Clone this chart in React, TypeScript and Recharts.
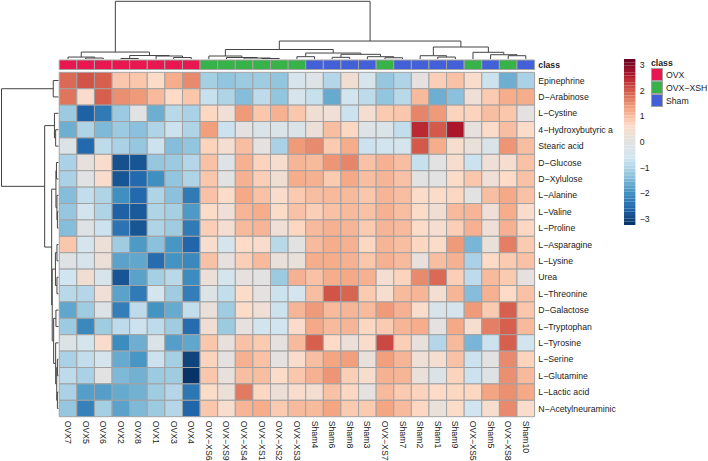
import { ScatterChart, Scatter, XAxis, YAxis, ReferenceArea } from 'recharts'

const colLabels = ['OVX7', 'OVX5', 'OVX6', 'OVX2', 'OVX8', 'OVX1', 'OVX3', 'OVX4', 'OVX−XS6', 'OVX−XS9', 'OVX−XS4', 'OVX−XS1', 'OVX−XS2', 'OVX−XS3', 'Sham4', 'Sham6', 'Sham8', 'Sham3', 'OVX−XS7', 'Sham7', 'Sham2', 'Sham1', 'Sham9', 'OVX−XS5', 'Sham5', 'OVX−XS8', 'Sham10']
const colClass = ['OVX', 'OVX', 'OVX', 'OVX', 'OVX', 'OVX', 'OVX', 'OVX', 'OVX−XSH', 'OVX−XSH', 'OVX−XSH', 'OVX−XSH', 'OVX−XSH', 'OVX−XSH', 'Sham', 'Sham', 'Sham', 'Sham', 'OVX−XSH', 'Sham', 'Sham', 'Sham', 'Sham', 'OVX−XSH', 'Sham', 'OVX−XSH', 'Sham']
const rowLabels = ['Epinephrine', 'D−Arabinose', 'L−Cystine', '4−Hydroxybutyric a', 'Stearic acid', 'D−Glucose', 'D−Xylulose', 'L−Alanine', 'L−Valine', 'L−Proline', 'L−Asparagine', 'L−Lysine', 'Urea', 'L−Threonine', 'D−Galactose', 'L−Tryptophan', 'L−Tyrosine', 'L−Serine', 'L−Glutamine', 'L−Lactic acid', 'N−Acetylneuraminic']

const epinephrine = [1.85, 2.05, 1.95, 0.9, 0.9, 0.6, 1.2, 1.55, -1.1, -1.3, -1.2, -1.15, -1.3, -0.4, -0.2, -0.95, 0.35, -0.45, -1.25, -1.0, 0.05, 0.8, 0.95, 0.55, -0.7, -1.6, -1.05]
const arabinose = [1.75, 0.55, 1.95, 1.5, 1.4, 1.05, 0.65, 0.9, -0.75, -1.0, -1.4, -0.85, -1.3, -0.4, -0.75, -1.65, -0.6, -0.85, -1.3, -0.9, 1.05, -1.6, -1.35, 0.3, 0.85, 1.2, 1.2]
const cystine = [-1.2, -2.65, -2.3, -1.2, -0.05, -1.6, -0.9, -1.05, 0.7, 0.3, 1.4, 0.9, 1.15, 0.9, 0.35, 0.3, -0.7, 0.4, 0.85, 0.9, 1.6, 1.4, 0.75, 0.75, 1.0, 0.9, 0.05]
const hydroxybutyric = [-1.6, -1.0, -1.45, -1.2, -1.35, -1.0, -0.7, -1.0, 1.35, -0.7, 0.05, -0.3, -0.3, -0.3, 0.25, 1.0, 0.7, -0.2, -0.3, -0.8, 2.45, 2.0, 2.65, 0.1, 0.6, 1.0, 0.6]
const stearic = [-0.25, -2.55, -0.85, -1.05, -1.25, -0.7, -1.4, -1.3, 0.75, 0.4, 1.0, 0.05, -1.05, 1.4, 1.55, 0.85, 1.2, -0.7, -0.6, -0.5, 2.0, 1.2, 0.5, 0.2, -0.3, 1.45, 1.0]
const glucose = [-1.05, 0.15, 0.55, -2.85, -2.8, -1.25, -1.2, -0.95, 0.95, -0.2, 1.15, 0.75, 0.5, 1.1, 1.05, 1.45, 1.6, 0.95, 1.15, 1.0, -0.75, 0.0, 0.5, -0.7, 0.3, 0.45, 0.95]
const xylulose = [-1.05, -0.05, 0.55, -2.8, -2.55, -2.0, -1.3, -1.0, 0.9, 0.0, 1.15, 0.8, 0.35, 1.2, 1.15, 0.85, 1.25, 1.0, 1.1, 0.95, 0.0, 0.0, 0.6, 0.9, 0.3, 0.65, 0.95]
const alanine = [-1.4, -0.8, -1.0, -2.0, -2.55, -1.0, -1.35, -2.3, 0.95, 0.6, 1.25, 0.95, 0.55, 0.85, 1.0, 1.05, 1.05, 0.9, 1.1, 1.0, 0.6, 0.6, 0.7, 0.0, 1.0, 1.25, 0.95]
const valine = [-1.25, -0.6, -1.0, -2.65, -2.75, -1.0, -1.1, -1.85, 0.6, 0.3, 1.1, 1.2, 0.6, 0.95, 0.8, 0.95, 1.05, 0.95, 1.15, 1.0, 0.6, 0.35, 1.05, 1.1, 0.3, 1.2, 0.55]
const proline = [-1.4, -0.1, -0.7, -2.4, -2.8, -1.0, -1.15, -2.3, 0.8, 0.4, 1.05, 1.1, 0.3, 0.7, 1.05, 1.15, 1.1, 0.85, 1.1, 1.05, 0.6, 0.45, 0.8, 1.15, 0.3, 1.15, 0.7]
const asparagine = [0.9, -0.5, 0.25, -1.15, -1.85, -1.35, -1.9, -2.6, 0.5, -0.5, 0.65, 0.55, -0.9, 0.0, 1.05, 1.2, 1.15, 0.7, 1.1, 1.0, 0.7, 0.6, 1.4, -1.5, 0.2, 1.65, 0.85]
const lysine = [-0.1, -0.4, 0.25, -1.75, -1.7, -2.5, -1.95, -2.1, 0.95, 0.1, 0.8, 1.05, 0.2, 0.2, 1.2, 1.2, 1.15, 0.9, 1.15, 1.05, 0.15, 1.0, 1.15, -1.05, 0.65, 0.85, 0.95]
const urea = [-0.65, 0.35, -0.4, -2.8, -1.75, -1.1, -0.9, -2.05, 0.25, -0.55, 0.1, 0.0, -1.2, 1.15, 0.95, 1.2, 1.25, 1.15, 0.4, 0.75, 1.55, 1.85, 0.8, -0.85, 1.05, 0.85, 0.1]
const threonine = [-0.9, -0.95, 0.3, -1.75, -2.3, -0.55, -1.15, -2.25, -0.25, -0.8, 0.6, 0.05, -0.7, -0.5, 1.0, 2.05, 1.9, 0.85, 0.5, 1.05, 1.1, 0.4, 1.1, -1.4, 1.15, 0.65, 0.95]
const galactose = [-1.7, -1.15, -0.25, -2.25, -0.85, -1.95, -1.65, -0.8, 0.2, -1.15, 0.6, 0.3, -0.7, 1.1, 1.4, 1.05, 1.1, 1.05, 1.4, 1.15, 0.55, -0.35, -0.5, 1.4, 0.85, 1.95, 0.9]
const tryptophan = [-1.2, -2.1, -1.15, -0.85, -0.7, -0.85, -1.15, -2.5, 0.35, -1.2, 0.1, -0.6, -0.65, 0.55, 1.25, 1.05, 1.1, 0.7, 0.85, 1.1, 1.2, 0.05, 1.25, 0.45, 1.65, 1.95, 1.05]
const tyrosine = [-0.25, -0.55, 0.55, -2.05, -1.6, -0.3, -1.8, -1.7, 0.9, 0.15, 0.95, 0.85, 0.1, 1.05, 1.95, 0.65, 0.25, 0.55, 2.15, 0.8, 0.15, -0.95, 1.05, -1.5, -0.7, 1.95, -0.6]
const serine = [-1.05, -0.8, -0.5, -1.65, -1.9, -0.7, -1.1, -3.0, 0.75, 0.05, 1.15, 0.95, 0.05, 0.55, 1.0, 1.3, 1.35, 0.2, 1.35, 1.1, 0.3, 0.45, 0.95, -0.7, 0.0, 1.55, 0.75]
const glutamine = [-0.85, -1.05, 0.0, -1.45, -1.55, -1.2, -1.15, -3.2, 0.9, 0.15, 1.0, 1.0, 0.6, 0.9, 1.15, 1.45, 0.8, 0.5, 1.15, 1.1, 0.2, -0.25, 0.75, -0.7, -0.1, 1.5, 1.05]
const lactic = [-1.05, -1.8, -1.8, -1.65, -1.55, -1.15, -0.95, -2.35, 0.6, 0.25, 1.7, 0.7, 0.25, 0.55, 0.4, 0.95, 0.7, 0.1, 1.05, 0.85, 0.75, 0.65, 0.7, 0.7, 1.3, 1.5, 1.25]
const acetylneuraminic = [-1.25, -2.2, -1.1, -1.75, -1.45, -1.2, -0.95, -2.6, 0.9, 0.5, 1.1, 1.2, 0.85, 1.05, 1.05, 1.3, 0.85, 0.85, 1.3, 1.05, 0.7, 0.2, 0.6, -0.65, 0.5, 1.55, 0.55]

const rowValues = [epinephrine, arabinose, cystine, hydroxybutyric, stearic, glucose, xylulose, alanine, valine, proline, asparagine, lysine, urea, threonine, galactose, tryptophan, tyrosine, serine, glutamine, lactic, acetylneuraminic]

// hclust style merges: negative = leaf (1-based), positive = earlier merge (1-based), then height
const colMerge = [
  [-2, -3, 1.7], [-1, 1, 3.4], [-4, -5, 0.9], [-7, -8, 2.6], [-6, 4, 5.2], [3, 5, 6], [2, 6, 12],
  [-12, -13, 0.9], [-11, 8, 1.7], [-10, 9, 2.6], [-9, 10, 5.2], [-14, -15, 4], [-16, -17, 2.9],
  [-19, -20, 2.2], [-18, 14, 4], [13, 15, 8.1], [12, 16, 10.3], [11, 17, 16.4], [-22, -23, 3.4],
  [-21, 19, 5.7], [-26, -27, 5.7], [-25, 21, 7.4], [-24, 22, 11.6], [20, 23, 20.7], [18, 24, 31], [7, 25, 99.5],
]
const rowMerge = [
  [-1, -2, 9.1], [-4, -5, 4.9], [-3, 2, 7], [-6, -7, 3.5], [-9, -10, 1.8], [-8, 5, 2.6], [4, 6, 4.4],
  [-11, -12, 2.6], [-13, -14, 2.6], [8, 9, 5.3], [-15, -16, 4.4], [-18, -19, 1.8], [-20, -21, 1.8],
  [12, 13, 3], [-17, 14, 4.9], [11, 15, 8.4], [10, 16, 10.9], [7, 17, 11.9], [3, 18, 24.2], [1, 19, 100],
]

const classColors: Record<string, string> = { OVX: '#E9174F', 'OVX−XSH': '#37B34A', Sham: '#4360D8' }
const classNames = ['OVX', 'OVX−XSH', 'Sham']
const rampStops = ['#053061', '#2166AC', '#4393C3', '#92C5DE', '#D1E5F0', '#E2E2E2', '#FDDBC7', '#F4A582', '#D6604D', '#B2182B', '#67001F']
const scaleTicks = [-3, -2, -1, 0, 1, 2, 3]
const scaleMax = 3.24

function heatColor(v: number) {
  const t = (Math.max(-scaleMax, Math.min(scaleMax, v)) + scaleMax) / (2 * scaleMax) * (rampStops.length - 1)
  const i = Math.min(Math.floor(t), rampStops.length - 2)
  const f = t - i
  const ch = (hex: string, k: number) => parseInt(hex.slice(k, k + 2), 16)
  const mix = (k: number) => Math.round(ch(rampStops[i], k) + (ch(rampStops[i + 1], k) - ch(rampStops[i], k)) * f)
  return `rgb(${mix(1)},${mix(3)},${mix(5)})`
}

// turns merges into [pos, height] polylines, one per link
function treeLinks(merge: number[][]) {
  const pos: number[] = []
  const hgt: number[] = []
  return merge.map(([a, b, h], i) => {
    const pa = a < 0 ? -a - 0.5 : pos[a - 1]
    const pb = b < 0 ? -b - 0.5 : pos[b - 1]
    const ha = a < 0 ? 0 : hgt[a - 1]
    const hb = b < 0 ? 0 : hgt[b - 1]
    pos[i] = (pa + pb) / 2
    hgt[i] = h
    return [[pa, ha], [pa, h], [pb, h], [pb, hb]]
  })
}

const X_MIN = -3.364
const Y_MIN = -4.41
const stripTop = -0.75
const stripBottom = -0.17
const classRow = -0.46

const colLinks = treeLinks(colMerge).map(l => l.map(([p, h]) => ({ x: p, y: -0.811 - h * 0.03537 })))
const rowLinks = treeLinks(rowMerge).map(l => l.map(([p, h]) => ({ x: -0.045 - h * 0.03233, y: p })))

const FONT = '"Liberation Sans", Arial, sans-serif'
const TEXT = '#222'
const GRID = '#A2A2A2'

function ColTick({ x, y, payload }: any) {
  return (
    <text transform={`translate(${x - 3},${y - 4}) rotate(90)`} fontSize={8.7} fontFamily={FONT} fill={TEXT} textAnchor="start">
      {colLabels[Math.floor(payload.value)]}
    </text>
  )
}

function RowTick({ x, y, payload }: any) {
  const isClass = payload.value < 0
  return (
    <text x={x - 4.3} y={y + 3} fontSize={8.7} fontFamily={FONT} fill={TEXT} fontWeight={isClass ? 700 : 400} textAnchor="start">
      {isClass ? 'class' : rowLabels[Math.floor(payload.value)]}
    </text>
  )
}

function ScaleTick({ x, y, payload }: any) {
  return (
    <text x={x - 3.7} y={y + 3} fontSize={8.7} fontFamily={FONT} fill={TEXT} textAnchor="start">
      {payload.value < 0 ? `−${-payload.value}` : payload.value}
    </text>
  )
}

const noDot = () => <g />

export default function App() {
  const bandCount = 50
  const bands = Array.from({ length: bandCount }, (_, i) => -scaleMax + (2 * scaleMax * i) / bandCount)

  return (
    <div style={{ position: 'absolute', left: 0, top: 0, width: 708, height: 461, fontFamily: FONT }}>
      <ScatterChart width={708} height={461} margin={{ top: 0, right: 0, bottom: 0, left: 0 }}>
        <XAxis
          type="number"
          dataKey="x"
          domain={[X_MIN, 27]}
          allowDataOverflow
          ticks={colLabels.map((_, i) => i + 0.5)}
          interval={0}
          height={44.3}
          tick={<ColTick />}
          tickLine={false}
          axisLine={false}
        />
        <YAxis
          type="number"
          dataKey="y"
          domain={[Y_MIN, 21]}
          allowDataOverflow
          reversed
          orientation="right"
          ticks={[classRow, ...rowLabels.map((_, i) => i + 0.5)]}
          interval={0}
          width={173.4}
          tick={<RowTick />}
          tickLine={false}
          axisLine={false}
        />
        {colClass.map((c, i) => (
          <ReferenceArea key={`s${i}`} x1={i} x2={i + 1} y1={stripTop} y2={stripBottom} fill={classColors[c]} fillOpacity={1} stroke={GRID} strokeWidth={1} />
        ))}
        {rowValues.map((vals, r) =>
          vals.map((v, c) => (
            <ReferenceArea key={`c${r}-${c}`} x1={c} x2={c + 1} y1={r} y2={r + 1} fill={heatColor(v)} fillOpacity={1} stroke={GRID} strokeWidth={1} />
          ))
        )}
        {colLinks.map((pts, i) => (
          <Scatter key={`ct${i}`} data={pts} line={{ stroke: '#444', strokeWidth: 1 }} shape={noDot} isAnimationActive={false} />
        ))}
        {rowLinks.map((pts, i) => (
          <Scatter key={`rt${i}`} data={pts} line={{ stroke: '#444', strokeWidth: 1 }} shape={noDot} isAnimationActive={false} />
        ))}
      </ScatterChart>

      <div style={{ position: 'absolute', left: 624.3, top: 59 }}>
        <ScatterChart width={60} height={166} margin={{ top: 0, right: 0, bottom: 0, left: 0 }}>
          <XAxis type="number" dataKey="x" domain={[0, 1]} hide />
          <YAxis
            type="number"
            dataKey="y"
            domain={[-scaleMax, scaleMax]}
            allowDataOverflow
            orientation="right"
            ticks={scaleTicks}
            interval={0}
            width={48.6}
            tick={<ScaleTick />}
            tickLine={false}
            axisLine={false}
          />
          {bands.map((b, i) => (
            <ReferenceArea key={i} x1={0} x2={1} y1={b} y2={b + (2 * scaleMax) / bandCount} fill={heatColor(b + scaleMax / bandCount)} fillOpacity={1} />
          ))}
          <Scatter data={[{ x: 0, y: 0 }]} shape={noDot} isAnimationActive={false} />
        </ScatterChart>
      </div>

      <div style={{ position: 'absolute', left: 651, top: 57.5, fontSize: 8.7, lineHeight: '10px', fontWeight: 700, color: TEXT }}>class</div>
      {classNames.map((c, i) => (
        <div key={c} style={{ position: 'absolute', left: 650.7, top: 68.3 + i * 12.9, display: 'flex', alignItems: 'center', height: 12.9 }}>
          <div style={{ width: 12.6, height: 12.9, boxSizing: 'border-box', background: classColors[c], border: `1px solid ${GRID}` }} />
          <span style={{ marginLeft: 2.7, fontSize: 8.7, color: TEXT, whiteSpace: 'nowrap' }}>{c}</span>
        </div>
      ))}
    </div>
  )
}
